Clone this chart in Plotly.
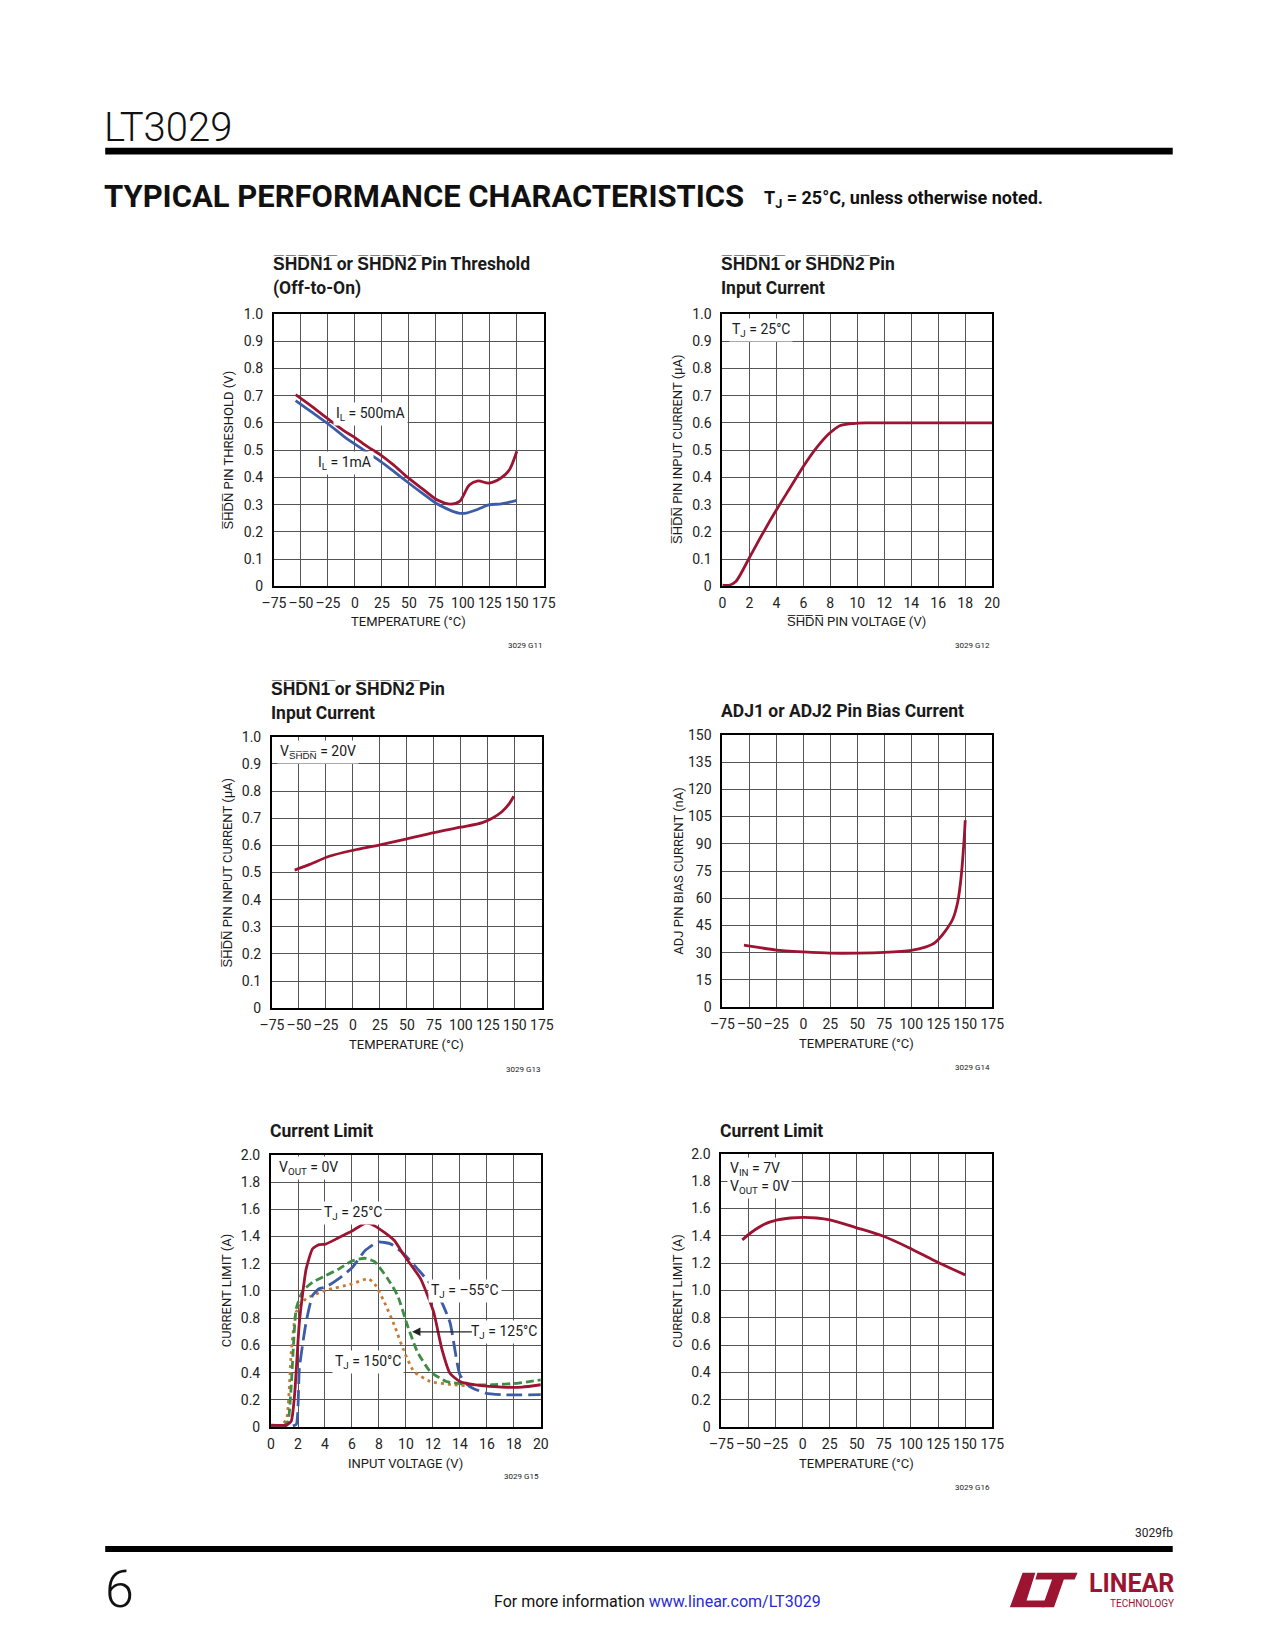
import plotly.graph_objects as go

W, H = 1275, 1650
FONT = "Roboto, Liberation Sans, sans-serif"
RED = "#9c1432"
BLUE = "#3d5ca8"
GREEN = "#3e8d45"
ORANGE = "#c77a35"

# ---------------- data ----------------
temp_ticks = [-75, -50, -25, 0, 25, 50, 75, 100, 125, 150, 175]
temp_ticktext = ["–75", "–50", "–25", "0", "25", "50", "75", "100", "125", "150", "175"]
unit_ticks = [0, 0.1, 0.2, 0.3, 0.4, 0.5, 0.6, 0.7, 0.8, 0.9, 1.0]
unit_ticktext = ["0", "0.1", "0.2", "0.3", "0.4", "0.5", "0.6", "0.7", "0.8", "0.9", "1.0"]
v20_ticks = [0, 2, 4, 6, 8, 10, 12, 14, 16, 18, 20]
adj_ticks = [0, 15, 30, 45, 60, 75, 90, 105, 120, 135, 150]
amp_ticks = [0, 0.2, 0.4, 0.6, 0.8, 1.0, 1.2, 1.4, 1.6, 1.8, 2.0]
amp_ticktext = ["0", "0.2", "0.4", "0.6", "0.8", "1.0", "1.2", "1.4", "1.6", "1.8", "2.0"]

# G11: SHDN pin threshold vs temperature
thr_temp_500 = [-55, -40, -25, -10, 0, 12, 24, 36, 48, 62, 76, 89, 97, 106, 114, 124, 135, 143, 150]
thr_500 = [0.704, 0.661, 0.615, 0.571, 0.546, 0.512, 0.482, 0.445, 0.403, 0.360, 0.318, 0.302,
           0.312, 0.372, 0.387, 0.379, 0.397, 0.427, 0.496]
thr_temp_1 = [-55, -40, -25, -10, 0, 12, 24, 36, 48, 62, 76, 88, 96, 103, 114, 124, 136, 150]
thr_1 = [0.682, 0.640, 0.597, 0.550, 0.522, 0.490, 0.458, 0.422, 0.385, 0.343, 0.303, 0.280,
         0.269, 0.269, 0.283, 0.299, 0.303, 0.316]

# G12: SHDN pin input current vs SHDN voltage
shdn_v = [0, 0.5, 1.0, 2, 3, 4, 5, 6, 7, 7.9, 8.7, 9.7, 10.7, 12, 14, 16, 18, 20]
shdn_i = [0.004, 0.004, 0.018, 0.105, 0.195, 0.28, 0.36, 0.44, 0.51, 0.56, 0.59, 0.598, 0.6,
          0.6, 0.6, 0.6, 0.6, 0.6]

# G13: SHDN pin input current vs temperature
iin_temp = [-54, -40, -22, 0, 25, 50, 75, 100, 120, 129, 138, 145, 149]
iin = [0.509, 0.530, 0.56, 0.582, 0.602, 0.624, 0.647, 0.667, 0.684, 0.70, 0.724, 0.755, 0.781]

# G14: ADJ pin bias current vs temperature
adj_temp = [-55, -25, 0, 25, 50, 75, 100, 113, 122, 131, 138.6, 143, 146, 149, 150]
adj = [34.2, 31.5, 30.5, 29.8, 29.8, 30.2, 31.3, 33.1, 35.6, 41.5, 48.7, 57.8, 70.5, 92.4, 103]

# G15: current limit vs input voltage
vin_25 = [0, 1.14, 1.5, 1.75, 2.1, 2.6, 3.08, 3.56, 4.05, 5.0, 6.0, 6.96, 7.44, 8.4, 9.14, 9.87,
          11.08, 12.05, 12.65, 13.26, 14.0, 15.44, 17.1, 18.6, 20]
il_25 = [0.015, 0.015, 0.044, 0.24, 0.77, 1.16, 1.31, 1.34, 1.344, 1.39, 1.44, 1.497, 1.49, 1.43,
         1.37, 1.26, 1.09, 0.846, 0.578, 0.396, 0.335, 0.306, 0.294, 0.294, 0.311]
vin_m55 = [0, 1.5, 1.87, 2.1, 2.6, 3.08, 3.56, 4.05, 5.0, 6.0, 6.96, 7.93, 8.9, 9.87, 11.08, 12.3,
           13.26, 14.0, 14.7, 15.9, 17.1, 20]
il_m55 = [0.007, 0.007, 0.02, 0.43, 0.77, 0.967, 1.016, 1.028, 1.089, 1.17, 1.295, 1.36, 1.344,
          1.27, 1.137, 0.99, 0.77, 0.384, 0.30, 0.25, 0.238, 0.238]
vin_125 = [0, 0.9, 1.26, 1.5, 1.87, 2.35, 3.08, 4.05, 5.0, 6.0, 6.96, 7.68, 8.65, 9.38, 10.1,
           10.84, 11.8, 13.0, 14.7, 16.4, 18.35, 20]
il_125 = [0.005, 0.005, 0.044, 0.31, 0.87, 1.0, 1.064, 1.113, 1.16, 1.22, 1.24, 1.215, 1.09,
          0.967, 0.75, 0.554, 0.408, 0.335, 0.311, 0.311, 0.323, 0.347]
vin_150 = [0, 0.65, 1.14, 1.5, 1.87, 2.6, 4.05, 6.0, 7.2, 7.68, 8.4, 9.14, 9.87, 10.6, 11.8,
           13.5, 15.0]
il_150 = [0.005, 0.005, 0.056, 0.554, 0.846, 0.943, 1.004, 1.052, 1.089, 1.052, 0.918, 0.748,
          0.554, 0.408, 0.335, 0.311, 0.30]

# G16: current limit vs temperature
cl_temp = [-55.7, -47.5, -35.4, -23.3, -11.2, 0.9, 13, 25, 49.2, 73.4, 97.6, 121.8, 150]
cl = [1.37, 1.424, 1.484, 1.516, 1.53, 1.535, 1.53, 1.516, 1.46, 1.40, 1.315, 1.218, 1.114]


def ov(s):
    return "".join(c + "\u0305" for c in s)


def px(x):
    return x / W


def py(y):
    return 1 - y / H


# panel boxes in page pixels: left, right, top, bottom
panels = [
    (267, 542, 309, 584),
    (724, 999, 309, 584),
    (265, 540, 736, 1010),
    (724, 999, 734, 1009),
    (264, 539, 1158, 1433),
    (723, 999, 1157, 1433),
]

fig = go.Figure()


def axis(domain, rng, tv, tt, horiz):
    d = dict(domain=domain, range=rng, tickvals=tv, ticktext=tt, showline=True, mirror=True,
             linecolor="black", linewidth=2, showgrid=True, gridcolor="#555555", gridwidth=1,
             zeroline=False, ticks="outside", ticklen=3 if horiz else 6, tickangle=0,
             tickcolor="rgba(0,0,0,0)", tickfont=dict(family=FONT, size=14, color="#222"),
             fixedrange=True)
    return d


xr = [
    ([-75, 175], temp_ticks, temp_ticktext),
    ([0, 20], v20_ticks, [str(v) for v in v20_ticks]),
    ([-75, 175], temp_ticks, temp_ticktext),
    ([-75, 175], temp_ticks, temp_ticktext),
    ([0, 20], v20_ticks, [str(v) for v in v20_ticks]),
    ([-75, 175], temp_ticks, temp_ticktext),
]
yr = [
    ([0, 1], unit_ticks, unit_ticktext),
    ([0, 1], unit_ticks, unit_ticktext),
    ([0, 1], unit_ticks, unit_ticktext),
    ([0, 150], adj_ticks, [str(v) for v in adj_ticks]),
    ([0, 2], amp_ticks, amp_ticktext),
    ([0, 2], amp_ticks, amp_ticktext),
]

layout_axes = {}
for i, (l, r, t, b) in enumerate(panels):
    n = "" if i == 0 else str(i + 1)
    xa = axis([px(l), px(r)], *xr[i], True)
    ya = axis([py(b), py(t)], *yr[i], False)
    xa["anchor"] = "y" + n
    ya["anchor"] = "x" + n
    layout_axes["xaxis" + n] = xa
    layout_axes["yaxis" + n] = ya


def ref(i):
    n = "" if i == 0 else str(i + 1)
    return "x" + n, "y" + n


def add_line(i, x, y, color, dash="solid", width=2.8, shape="spline", smoothing=0.8):
    xa, ya = ref(i)
    fig.add_trace(go.Scatter(x=x, y=y, mode="lines", xaxis=xa, yaxis=ya, showlegend=False,
                             line=dict(color=color, width=width, dash=dash, shape=shape,
                                       smoothing=smoothing), hoverinfo="skip"))


add_line(0, thr_temp_1, thr_1, BLUE)
add_line(0, thr_temp_500, thr_500, RED)
add_line(1, shdn_v, shdn_i, RED)
add_line(2, iin_temp, iin, RED)
add_line(3, adj_temp, adj, RED, smoothing=0.6)
add_line(4, vin_150, il_150, ORANGE, dash="3px,4px", smoothing=0.5)
add_line(4, vin_125, il_125, GREEN, dash="8px,4px", smoothing=0.5)
add_line(4, vin_m55, il_m55, BLUE, dash="16px,6px", smoothing=0.5)
add_line(4, vin_25, il_25, RED, smoothing=0.5)
add_line(5, cl_temp, cl, RED)

ann = []


def text(x, y, s, size=15, bold=False, xanchor="center", yanchor="middle", color="#1a1a1a",
         angle=0, family=FONT, weight=None):
    if bold:
        s = "<b>" + s + "</b>"
    f = dict(family=family, size=size, color=color)
    if weight:
        f["weight"] = weight
    ann.append(dict(xref="paper", yref="paper", x=px(x), y=py(y), text=s, showarrow=False,
                    xanchor=xanchor, yanchor=yanchor, textangle=angle, font=f))


def label(i, x, y, s, xanchor="center", align="left"):
    xa, ya = ref(i)
    ann.append(dict(xref=xa, yref=ya, x=x, y=y, text=s, showarrow=False, xanchor=xanchor,
                    yanchor="middle", bgcolor="white", borderpad=2, align=align,
                    font=dict(family=FONT, size=14, color="#1a1a1a")))


# chart titles
TS = 17.5
text(264, 259, ov("SHDN1") + " or " + ov("SHDN2") + " Pin Threshold", TS, True, "left")
text(264, 283, "(Off-to-On)", TS, True, "left")
text(721, 259, ov("SHDN1") + " or " + ov("SHDN2") + " Pin", TS, True, "left")
text(721, 283, "Input Current", TS, True, "left")
text(262, 688, ov("SHDN1") + " or " + ov("SHDN2") + " Pin", TS, True, "left")
text(262, 712, "Input Current", TS, True, "left")
text(721, 710, "ADJ1 or ADJ2 Pin Bias Current", TS, True, "left")
text(261, 1134, "Current Limit", TS, True, "left")
text(720, 1134, "Current Limit", TS, True, "left")

# axis titles
AS = 13
text(404, 620, "TEMPERATURE (°C)", AS)
text(861, 620, ov("SHDN") + " PIN VOLTAGE (V)", AS)
text(402, 1047, "TEMPERATURE (°C)", AS)
text(861, 1046, "TEMPERATURE (°C)", AS)
text(401, 1470, "INPUT VOLTAGE (V)", AS)
text(861, 1470, "TEMPERATURE (°C)", AS)
text(221, 446, ov("SHDN") + " PIN THRESHOLD (V)", AS, angle=-90)
text(678, 446, ov("SHDN") + " PIN INPUT CURRENT (µA)", AS, angle=-90)
text(220, 873, ov("SHDN") + " PIN INPUT CURRENT (µA)", AS, angle=-90)
text(679, 871, "ADJ PIN BIAS CURRENT (nA)", AS, angle=-90)
text(219, 1295, "CURRENT LIMIT (A)", AS, angle=-90)
text(678, 1295, "CURRENT LIMIT (A)", AS, angle=-90)

# figure codes
text(542, 644, "3029 G11", 8, xanchor="right")
text(999, 644, "3029 G12", 8, xanchor="right")
text(540, 1072, "3029 G13", 8, xanchor="right")
text(999, 1070, "3029 G14", 8, xanchor="right")
text(539, 1483, "3029 G15", 8, xanchor="right")
text(999, 1494, "3029 G16", 8, xanchor="right")

# in-chart labels
label(0, 14, 0.633, "I<sub>L</sub> = 500mA")
label(0, -9.5, 0.452, "I<sub>L</sub> = 1mA")
label(1, 0.5, 0.94, "T<sub>J</sub> = 25°C", xanchor="left")
label(2, -70, 0.943, "V<sub>" + ov("SHDN") + "</sub> = 20V", xanchor="left")
label(4, 0.35, 1.9, "V<sub>OUT</sub> = 0V", xanchor="left")
label(4, 6.1, 1.575, "T<sub>J</sub> = 25°C")
label(4, 14.4, 1.0, "T<sub>J</sub> = –55°C")
label(4, 17.3, 0.70, "T<sub>J</sub> = 125°C")
label(4, 7.2, 0.48, "T<sub>J</sub> = 150°C")
label(5, -70, 1.82, "V<sub>IN</sub> = 7V<br>V<sub>OUT</sub> = 0V", xanchor="left")
ann.append(dict(xref="x5", yref="y5", axref="x5", ayref="y5", x=10.45, y=0.70, ax=15.0, ay=0.70,
                text="", showarrow=True, arrowhead=2, arrowsize=1.3, arrowwidth=1.3,
                arrowcolor="#222"))

# page header / footer
text(92, 121, "LT3029", 40, xanchor="left", color="#111", weight=300)
text(92, 190, "TYPICAL PERFORMANCE CHARACTERISTICS", 31, True, "left", color="#111")
text(764, 193, "T<sub>J</sub> = 25°C, unless otherwise noted.", 18, True, "left", color="#111")
text(1185, 1540, "3029fb", 12, xanchor="right", color="#222")
text(93, 1597, "6", 52, xanchor="left", color="#111", weight=300)
text(489, 1609, "For more information <span style='color:#2a2ad6'>www.linear.com/LT3029</span>",
     16, xanchor="left", color="#111")
text(1186, 1591, "LINEAR", 25, True, "right", color=RED)
text(1186, 1611, "TECHNOLOGY", 10, xanchor="right", color=RED)

shapes = [
    dict(type="rect", xref="paper", yref="paper", x0=px(95), x1=px(1183), y0=py(148), y1=py(141),
         fillcolor="black", line=dict(width=0)),
    dict(type="rect", xref="paper", yref="paper", x0=px(95), x1=px(1183), y0=py(1559),
         y1=py(1553), fillcolor="black", line=dict(width=0)),
]


def poly(pts):
    p = "M " + " L ".join(f"{px(a):.5f},{py(b):.5f}" for a, b in pts) + " Z"
    return dict(type="path", xref="paper", yref="paper", path=p, fillcolor=RED,
                line=dict(width=0))


# LT logo mark
shapes.append(poly([(1030, 1580), (1043, 1580), (1034, 1608), (1056, 1608), (1052, 1615),
                    (1017, 1615)]))
shapes.append(poly([(1045, 1580), (1086, 1580), (1083, 1587), (1072, 1587), (1062, 1615),
                    (1050, 1615), (1060, 1587), (1043, 1587)]))

fig.update_layout(width=W, height=H, margin=dict(l=0, r=0, t=0, b=0), paper_bgcolor="white",
                  plot_bgcolor="white", annotations=ann, shapes=shapes, **layout_axes)

fig.write_html("out.html", config={"displayModeBar": False},
               post_script="document.body.style.margin='0';"
                           "document.body.style.overflow='hidden';"
                           "document.documentElement.style.overflow='hidden';")
